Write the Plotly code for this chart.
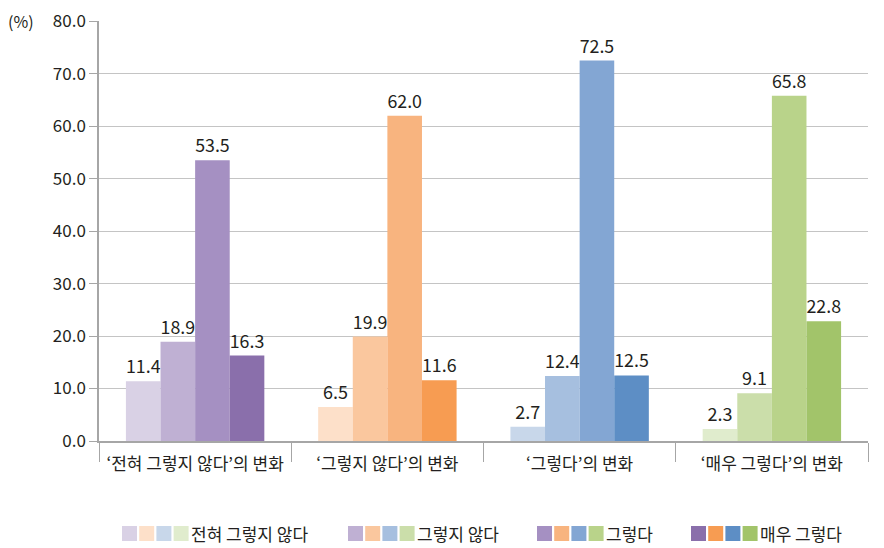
import plotly.graph_objects as go

categories = ["‘전혀 그렇지 않다’의 변화", "‘그렇지 않다’의 변화", "‘그렇다’의 변화", "‘매우 그렇다’의 변화"]
series_names = ["전혀 그렇지 않다", "그렇지 않다", "그렇다", "매우 그렇다"]

never = [11.4, 6.5, 2.7, 2.3]
disagree = [18.9, 19.9, 12.4, 9.1]
agree = [53.5, 62.0, 72.5, 65.8]
strongly = [16.3, 11.6, 12.5, 22.8]
values = [never, disagree, agree, strongly]

# colour per series (row) and per category group (column)
palette = [
    ["#d9d1e5", "#fde0c9", "#c8d7ea", "#e0eccd"],
    ["#bfb0d3", "#fac79e", "#a6bfdf", "#cbdeaa"],
    ["#a590c2", "#f8b47f", "#83a6d3", "#b9d38a"],
    ["#8a6fab", "#f79c52", "#5d8ec5", "#a2c46a"],
]

FONT = "Noto Sans CJK KR"
TXT = "#231f20"

# the page body adds an 8px margin, so the figure is sized/offset to fit
OFF = 8
W, H = 884 - OFF, 548 - OFF
pl, pr, pt, pb = 99 - OFF, 16, 21 - OFF, 548 - 441
pw, ph = W - pl - pr, H - pt - pb


def px_x(v):
    # page pixel -> paper x
    return (v - OFF - pl) / pw


def px_y(v):
    # page pixel -> paper y
    return (H - pb - (v - OFF)) / ph


fig = go.Figure()
for name, vals, cols in zip(series_names, values, palette):
    fig.add_trace(go.Bar(
        x=categories, y=vals, name=name,
        marker=dict(color=cols, line=dict(width=0)),
        texttemplate="%{y:.1f}", textposition="outside",
        textfont=dict(family=FONT, size=18, color=TXT),
        cliponaxis=False, showlegend=False,
    ))

fig.update_layout(
    width=W, height=H,
    margin=dict(l=pl, r=pr, t=pt, b=pb, autoexpand=False),
    paper_bgcolor="white", plot_bgcolor="white",
    barmode="group", bargap=0.28, bargroupgap=0,
    font=dict(family=FONT, size=17, color=TXT),
    xaxis=dict(
        showgrid=False, showline=True, linecolor="#a6a6a6", linewidth=1.5,
        ticks="outside", tickson="boundaries", ticklen=19, tickcolor="#a6a6a6",
        tickfont=dict(family=FONT, size=17, color=TXT),
        ticklabelstandoff=7, automargin=False,
    ),
    yaxis=dict(
        range=[0, 80.05], tickvals=[0, 10, 20, 30, 40, 50, 60, 70, 80], tickformat=".1f",
        showgrid=True, gridcolor="#c4c4c4", gridwidth=1.3,
        showline=True, linecolor="#a6a6a6", linewidth=1.5,
        ticks="outside", ticklen=8, tickcolor="#a6a6a6",
        tickfont=dict(family=FONT, size=17, color=TXT),
        ticklabeloverflow="allow",
        zeroline=False, automargin=False,
    ),
)

fig.add_annotation(xref="paper", yref="paper", x=px_x(6), y=px_y(21), text="(%)",
                   showarrow=False, xanchor="left", yanchor="middle",
                   font=dict(family=FONT, size=16, color=TXT))

# custom legend: four coloured squares per series, then the label
leg_starts = [122, 348, 537, 691]
sq, step = 15, 17.2
for i, name in enumerate(series_names):
    x0 = leg_starts[i]
    for j in range(4):
        xa = x0 + j * step
        fig.add_shape(type="rect", xref="paper", yref="paper",
                      x0=px_x(xa), x1=px_x(xa + sq), y0=px_y(541), y1=px_y(526),
                      fillcolor=palette[i][j], line=dict(width=0))
    fig.add_annotation(xref="paper", yref="paper", x=px_x(x0 + 4 * step - 2), y=px_y(533.5),
                       text=name, showarrow=False, xanchor="left", yanchor="middle",
                       font=dict(family=FONT, size=17, color=TXT))

fig.write_html("out.html")
